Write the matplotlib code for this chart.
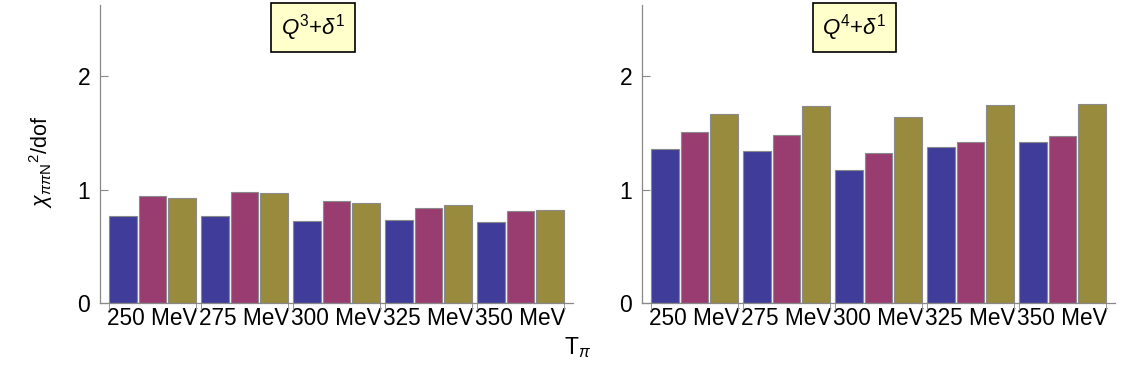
import numpy as np
import matplotlib
matplotlib.use('Agg')
import matplotlib.pyplot as plt

plt.rcParams['font.family'] = ['Liberation Sans', 'DejaVu Sans']
plt.rcParams['mathtext.fontset'] = 'custom'
plt.rcParams['mathtext.rm'] = 'Liberation Sans'
plt.rcParams['mathtext.it'] = 'Liberation Sans:italic'

# data
energies = ['250 MeV', '275 MeV', '300 MeV', '325 MeV', '350 MeV']
q3_blue = [0.766, 0.772, 0.728, 0.737, 0.714]
q3_magenta = [0.943, 0.980, 0.899, 0.843, 0.813]
q3_olive = [0.931, 0.969, 0.887, 0.863, 0.826]
q4_blue = [1.359, 1.344, 1.179, 1.380, 1.424]
q4_magenta = [1.514, 1.483, 1.327, 1.421, 1.474]
q4_olive = [1.665, 1.735, 1.638, 1.748, 1.756]

colors = ['#3F3D99', '#993D71', '#998B3D']
titles = [r'$Q^{3}$+$\delta^{1}$', r'$Q^{4}$+$\delta^{1}$']

fig = plt.figure(figsize=(11.28, 3.65), dpi=100)
ax1 = fig.add_axes([0.0887, 0.169, 0.4193, 0.8174])
ax2 = fig.add_axes([0.5691, 0.169, 0.4193, 0.8174])

x = np.arange(len(energies))
pitch = 0.322
width = 0.30
half = pitch + width / 2

panels = [(ax1, [q3_blue, q3_magenta, q3_olive], titles[0]),
          (ax2, [q4_blue, q4_magenta, q4_olive], titles[1])]

for ax, series, title in panels:
    for k, (vals, c) in enumerate(zip(series, colors)):
        ax.bar(x + (k - 1) * pitch, vals, width, color=c,
               edgecolor='#8a8a8a', linewidth=0.8, zorder=2)
    ax.set_xlim(-0.57, 4.57)
    ax.set_ylim(0, 2.63)
    for s in ['top', 'right']:
        ax.spines[s].set_visible(False)
    for s in ['left', 'bottom']:
        ax.spines[s].set_color('#888888')
        ax.spines[s].set_linewidth(0.9)
    ax.set_yticks([0, 1, 2])
    ax.set_yticklabels(['0', '1', '2'])
    ax.set_xticks(x)
    ax.set_xticklabels(energies)
    ax.set_xticks(np.concatenate([x - half, x + half]), minor=True)
    ax.tick_params(axis='x', which='major', length=0, labelsize=16.3, pad=3)
    ax.tick_params(axis='x', which='minor', direction='out', length=5,
                   color='#999999', width=0.7)
    ax.tick_params(axis='y', direction='in', length=6, color='#888888',
                   labelsize=16.5, pad=7)
    ax.text(0.45, 0.925, title, transform=ax.transAxes, ha='center',
            va='center', fontsize=16,
            bbox=dict(boxstyle='square,pad=0.42', facecolor='#FFFFCC',
                      edgecolor='black', linewidth=1.2))

fig.text(0.036, 0.555, r'$\chi_{\pi\pi\mathrm{N}}{}^{2}$/dof', rotation=90,
         ha='center', va='center', fontsize=15.5)
fig.text(0.512, 0.048, r'T$_{\pi}$', ha='center', va='center', fontsize=16.5)

fig.savefig('out.png', dpi=100)
